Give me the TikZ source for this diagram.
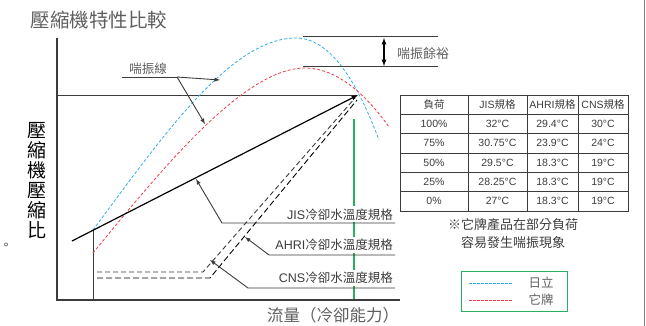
\documentclass[tikz,border=0pt]{standalone}
\usepackage{fontspec}
\setmainfont{Noto Sans CJK TC}
\newfontfamily\latf{Liberation Sans}
\usetikzlibrary{positioning,arrows}
\definecolor{txtgray}{RGB}{95,95,95}
\definecolor{linegray}{RGB}{60,60,60}
\definecolor{hitblue}{RGB}{45,175,235}
\definecolor{othred}{RGB}{235,60,75}
\definecolor{markgreen}{RGB}{40,175,95}
\newcommand{\fsz}[1]{\fontsize{#1}{#1}\selectfont}

\begin{document}
\begin{tikzpicture}[x=1pt,y=-1pt]
	\tikzstyle{lbl}=[inner sep=1pt,text=txtgray]
	\tikzstyle{spec}=[inner sep=2pt,fill=white,text=linegray,font=\fsz{12.5},anchor=base east]
	\tikzstyle{cell}=[inner sep=0pt,text=linegray,font=\fsz{10.5}\latf]
	\tikzstyle{lead}=[-latex,line width=0.9pt,draw=linegray]
	\useasboundingbox (0,0) rectangle (646,326);
	% titles
	\node[lbl,font=\fsz{19.5}] (title) at (99,20) {壓縮機特性比較};
	\node[lbl,font=\fontsize{19}{20}\selectfont,text=black,align=center] (ylab) at (37,180) {壓\\縮\\機\\壓\\縮\\比};
	\node[lbl,font=\fsz{16.5}] (xlab) at (333,315) {流量（冷卻能力）};
	\node[lbl,font=\fsz{12},anchor=base west,text=linegray] (dot) at (-1,250) {。};
	% points
	\coordinate (o) at (57,300);
	\coordinate (ytop) at (57,38);
	\coordinate (xend) at (400,300);
	\coordinate (p) at (358,95);
	\coordinate (h0) at (57,96);
	\coordinate (h1) at (357,96);
	\coordinate (s) at (72,241);
	\coordinate (b0) at (93,230);
	\coordinate (bt) at (296,38);
	\coordinate (b1) at (379,140);
	\coordinate (r0) at (93,253);
	\coordinate (rt) at (305,68);
	\coordinate (r1) at (389,127);
	\coordinate (v0) at (93,300);
	\coordinate (g0) at (354,119);
	\coordinate (g1) at (354,300);
	\coordinate (e0) at (644.5,0);
	\coordinate (e1) at (644.5,326);
	% axes
	\draw[markgreen,line width=1.3pt] (g0) -- (g1);
	\draw[line width=1.2pt,draw=linegray] (ytop) -- (o) -- (xend);
	\draw[gray,line width=0.8pt] (e0) -- (e1);
	\draw[line width=1pt,linegray] (h0) -- (h1);
	\draw[line width=1pt,linegray] (b0) -- (v0);
	% surge curves
	\draw[hitblue,dash pattern=on 3pt off 2pt,line width=0.8pt] (b0) .. controls (160,140) and (230,38) .. (bt) .. controls (335,38) and (362,95) .. (b1);
	\draw[othred,dash pattern=on 3pt off 2pt,line width=0.8pt] (r0) .. controls (165,165) and (245,68) .. (rt) .. controls (340,68) and (370,100) .. (r1);
	% operating lines
	\coordinate (k0) at (97,272);
	\coordinate (k1) at (203,272);
	\coordinate (k2) at (355,98);
	\coordinate (n0) at (97,278);
	\coordinate (n1) at (210,278);
	\coordinate (n2) at (357,100);
	\draw[linegray,dash pattern=on 5pt off 3pt,line width=0.9pt] (k0) -- (k1) -- (k2);
	\draw[black,dash pattern=on 6pt off 3pt,line width=0.9pt] (n0) -- (n1) -- (n2);
	\draw[-latex,line width=1.2pt] (s) -- (p);
	% surge margin
	\coordinate (t0) at (303,37);
	\coordinate (t1) at (438,37);
	\coordinate (u0) at (303,67);
	\coordinate (u1) at (438,67);
	\coordinate (m0) at (384,38);
	\coordinate (m1) at (384,66);
	\draw[line width=1pt,linegray] (t0) -- (t1);
	\draw[line width=1pt,linegray] (u0) -- (u1);
	\draw[latex-latex,line width=1.2pt] (m0) -- (m1);
	\node[lbl,font=\fsz{13}] (margin) at (423,54) {喘振餘裕};
	% surge line label
	\node[lbl,font=\fsz{12.5},anchor=base] (surge) at (148,74) {喘振線};
	\coordinate (w0) at (122,77);
	\coordinate (w1) at (177,77);
	\coordinate (wb) at (220,80);
	\coordinate (wr) at (205,124);
	\draw[line width=0.9pt,linegray] (w0) -- (w1);
	\draw[lead] (w1) -- (wb);
	\draw[lead] (w1) -- (wr);
	% spec labels
	\node[spec] (jis) at (395,219) {{\latf JIS}冷卻水溫度規格};
	\node[spec] (ahri) at (395,250) {{\latf AHRI}冷卻水溫度規格};
	\node[spec] (cns) at (395,283) {{\latf CNS}冷卻水溫度規格};
	\coordinate (j0) at (222,223);
	\coordinate (j1) at (395,223);
	\coordinate (ja) at (196,179);
	\coordinate (a0) at (269,255);
	\coordinate (a1) at (395,255);
	\coordinate (aa) at (245,237);
	\coordinate (c0) at (248,288);
	\coordinate (c1) at (395,288);
	\coordinate (ca) at (210,260);
	\draw[lead] (j1) -- (j0) -- (ja);
	\draw[lead] (a1) -- (a0) -- (aa);
	\draw[lead] (c1) -- (c0) -- (ca);
	% table
	\draw[linegray,line width=0.8pt] (400,95) rectangle (628,211)
		(400,114) -- (628,114) (400,133) -- (628,133) (400,153) -- (628,153)
		(400,172) -- (628,172) (400,191) -- (628,191)
		(468,95) -- (468,211) (527,95) -- (527,211) (578,95) -- (578,211);
	\node[cell] (hd0) at (434,104.5) {\rmfamily 負荷};
	\node[cell] (hd1) at (497.5,104.5) {JIS{\rmfamily 規格}};
	\node[cell] (hd2) at (552.5,104.5) {AHRI{\rmfamily 規格}};
	\node[cell] (hd3) at (603,104.5) {CNS{\rmfamily 規格}};
	\node[cell] (ld1) at (434,123.5) {100\%};
	\node[cell] (js1) at (497.5,123.5) {32°C};
	\node[cell] (ah1) at (552.5,123.5) {29.4°C};
	\node[cell] (cn1) at (603,123.5) {30°C};
	\node[cell] (ld2) at (434,143) {75\%};
	\node[cell] (js2) at (497.5,143) {30.75°C};
	\node[cell] (ah2) at (552.5,143) {23.9°C};
	\node[cell] (cn2) at (603,143) {24°C};
	\node[cell] (ld3) at (434,162.5) {50\%};
	\node[cell] (js3) at (497.5,162.5) {29.5°C};
	\node[cell] (ah3) at (552.5,162.5) {18.3°C};
	\node[cell] (cn3) at (603,162.5) {19°C};
	\node[cell] (ld4) at (434,181.5) {25\%};
	\node[cell] (js4) at (497.5,181.5) {28.25°C};
	\node[cell] (ah4) at (552.5,181.5) {18.3°C};
	\node[cell] (cn4) at (603,181.5) {19°C};
	\node[cell] (ld5) at (434,201) {0\%};
	\node[cell] (js5) at (497.5,201) {27°C};
	\node[cell] (ah5) at (552.5,201) {18.3°C};
	\node[cell] (cn5) at (603,201) {19°C};
	% note and legend
	\node[lbl,font=\fontsize{13}{18}\selectfont,align=center,text=linegray] (note) at (513,234) {※它牌產品在部分負荷\\容易發生喘振現象};
	\node[draw=markgreen,line width=1pt,minimum width=106pt,minimum height=40pt,inner sep=0pt] (legend) at (514,291) {};
	\coordinate (lb0) at (469,283);
	\coordinate (lb1) at (513,283);
	\coordinate (lr0) at (469,300);
	\coordinate (lr1) at (513,300);
	\draw[hitblue,dash pattern=on 2.5pt off 1.5pt,line width=1pt] (lb0) -- (lb1);
	\draw[othred,dash pattern=on 2.5pt off 1.5pt,line width=1pt] (lr0) -- (lr1);
	\node[lbl,font=\fsz{12.5}] (hit) at (541,283) {日立};
	\node[lbl,font=\fsz{12.5}] (oth) [below=3pt of hit] {它牌};
\end{tikzpicture}
\end{document}
